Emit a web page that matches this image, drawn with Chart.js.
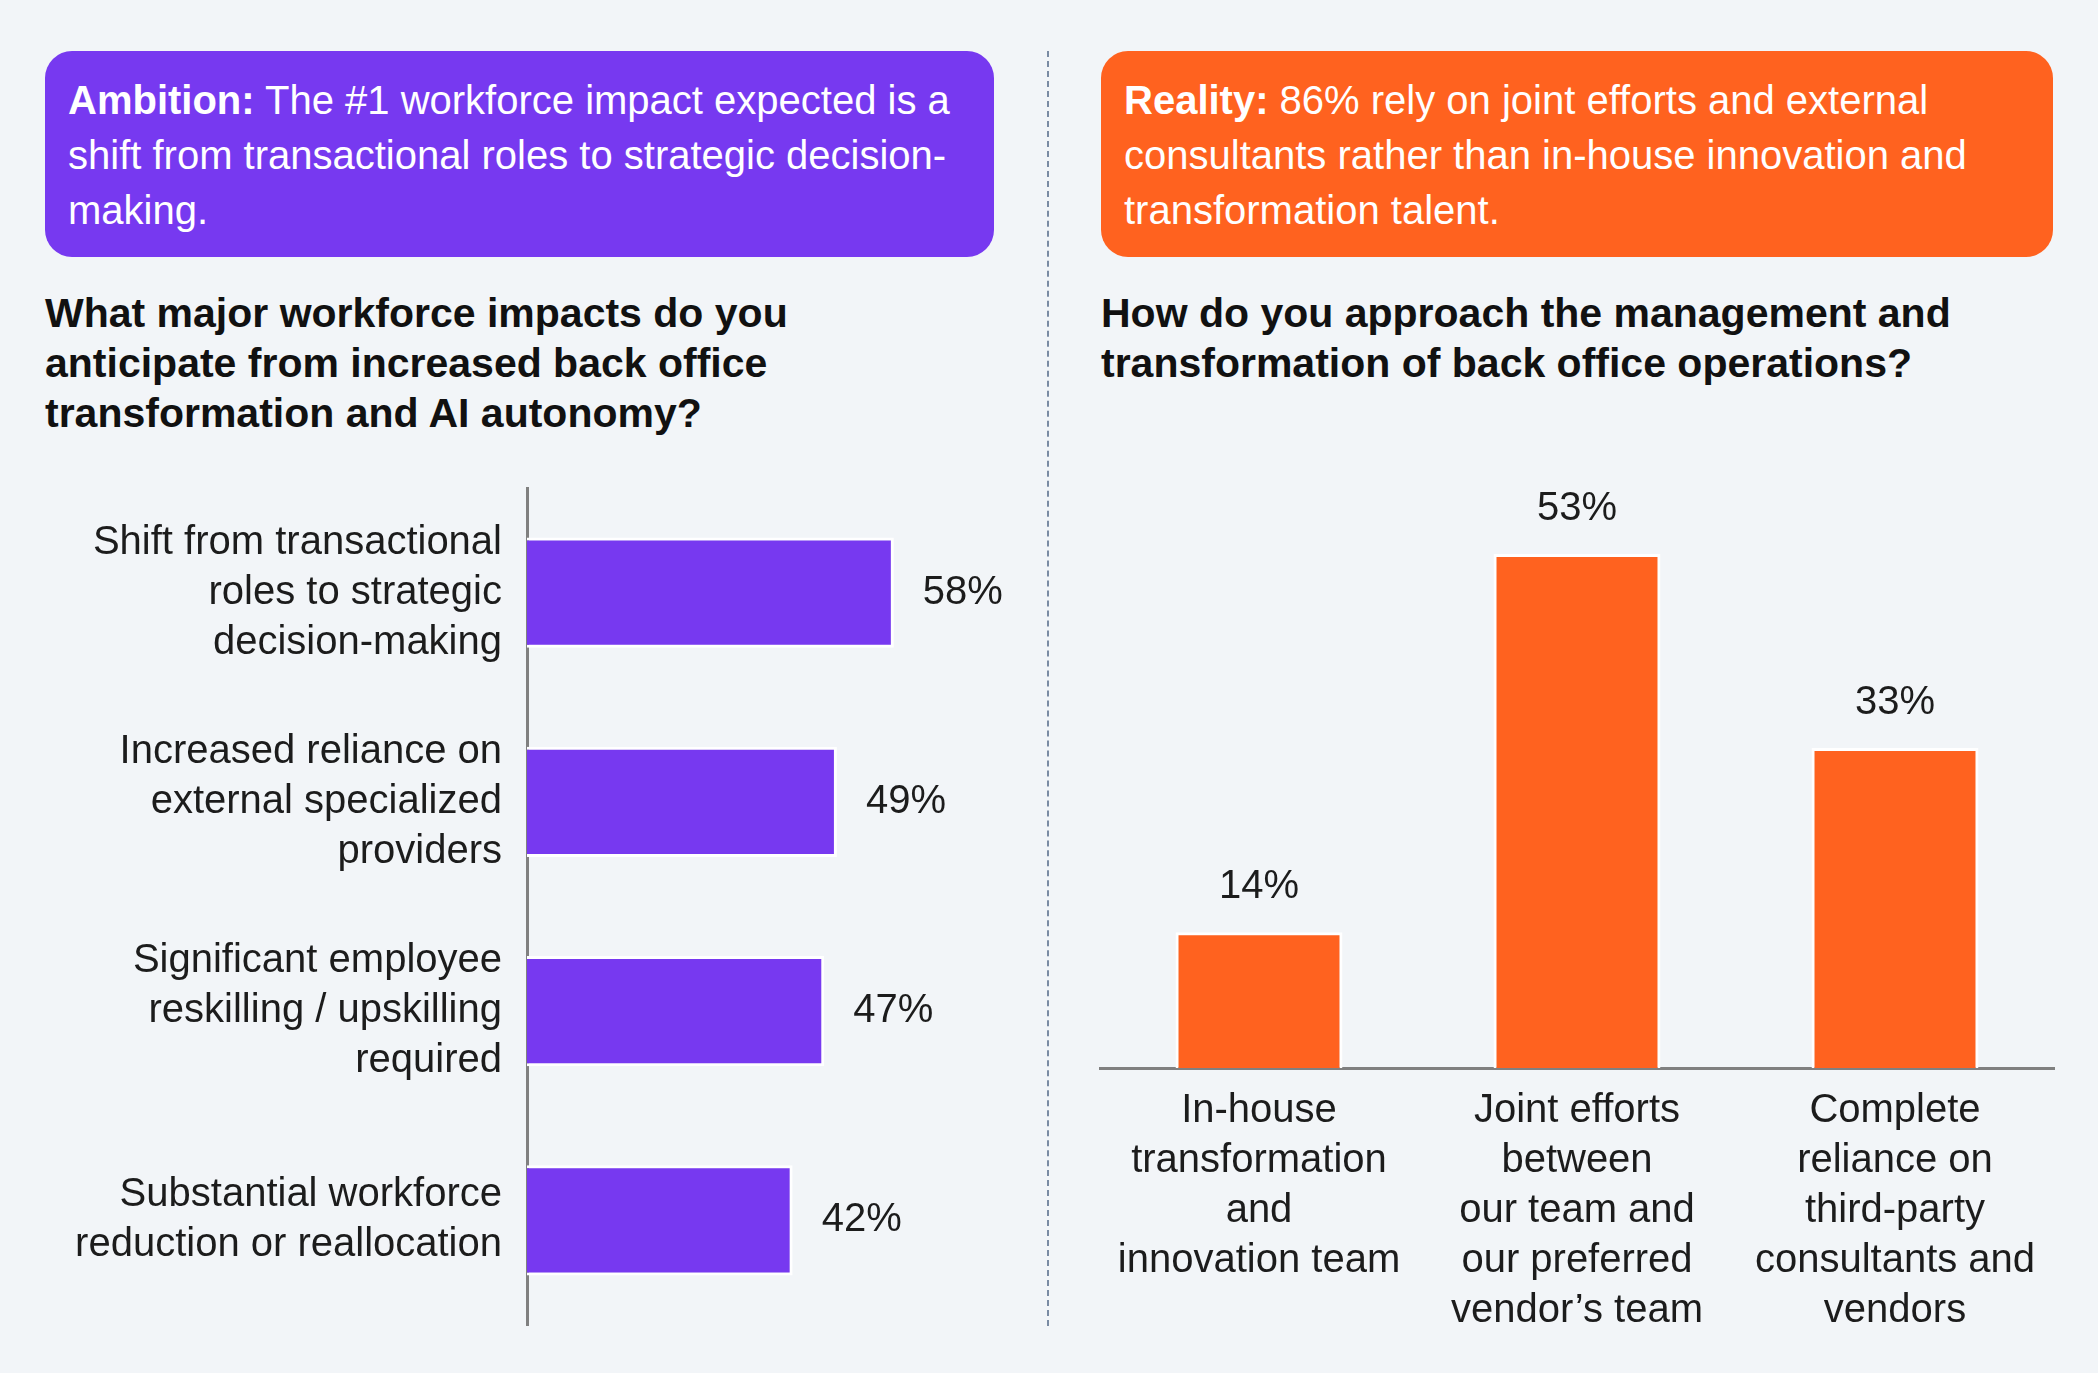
<!DOCTYPE html>
<html>
<head>
<meta charset="utf-8">
<script src="https://cdn.jsdelivr.net/npm/chart.js@4.4.0/dist/chart.umd.min.js"></script>
<style>
  body { margin: 0; background: #f2f5f8; font-family: 'Liberation Sans', Arial, sans-serif; }
  #page { position: relative; width: 2098px; height: 1373px; overflow: hidden; background: #f2f5f8; }
  .box { position: absolute; top: 51px; height: 206px; border-radius: 27px; color: #fff;
         font-size: 40px; line-height: 55px; padding: 22px 23px; box-sizing: border-box; white-space: nowrap; }
  .box b { font-weight: bold; }
  .title { position: absolute; top: 288px; font-size: 41px; font-weight: bold; line-height: 50px; color: #111; white-space: nowrap; }
  #divider { position: absolute; left: 1047px; top: 51px; height: 1275px; width: 0;
             border-left: 2px dashed #7a8ba3; }
  canvas { position: absolute; }
</style>
</head>
<body>
<div id="page">
  <div class="box" style="left:45px; width:949px; background:#7739f0;">
    <b>Ambition:</b> The #1 workforce impact expected is a<br>shift from transactional roles to strategic decision-<br>making.
  </div>
  <div class="box" style="left:1101px; width:952px; background:#ff621f;">
    <b>Reality:</b> 86% rely on joint efforts and external<br>consultants rather than in-house innovation and<br>transformation talent.
  </div>
  <div class="title" style="left:45px;">What major workforce impacts do you<br>anticipate from increased back office<br>transformation and AI autonomy?</div>
  <div class="title" style="left:1101px;">How do you approach the management and<br>transformation of back office operations?</div>
  <div id="divider"></div>
  <canvas id="impact-chart" width="1048" height="870" style="left:0; top:470px;"></canvas>
  <canvas id="approach-chart" width="1049" height="903" style="left:1049px; top:470px;"></canvas>
</div>
<script>
var impactLabels = [
    ["Shift from transactional", "roles to strategic", "decision-making"],
    ["Increased reliance on", "external specialized", "providers"],
    ["Significant employee", "reskilling / upskilling", "required"],
    ["Substantial workforce", "reduction or reallocation"]
];
var impactValues = [58, 49, 47, 42];

var approachLabels = [
    ["In-house", "transformation", "and", "innovation team"],
    ["Joint efforts", "between", "our team and", "our preferred", "vendor\u2019s team"],
    ["Complete", "reliance on", "third-party", "consultants and", "vendors"]
];
var approachValues = [14, 53, 33];

var fontFamily = "'Liberation Sans', Arial, sans-serif";
var textColor = "#1c1c1c";

// draws the "58%" style labels next to / above each bar
var valueLabels = {
    id: 'valueLabels',
    afterDatasetsDraw: function (chart, args, opts) {
        var ctx = chart.ctx;
        var meta = chart.getDatasetMeta(0);
        var data = chart.data.datasets[0].data;
        ctx.save();
        ctx.font = "40px " + fontFamily;
        ctx.fillStyle = textColor;
        ctx.textBaseline = 'middle';
        meta.data.forEach(function (bar, i) {
            var txt = data[i] + '%';
            if (opts.horizontal) {
                ctx.textAlign = 'left';
                ctx.fillText(txt, bar.x + 29, bar.y);
            } else {
                ctx.textAlign = 'center';
                ctx.fillText(txt, bar.x, bar.y - 45);
            }
        });
        ctx.restore();
    }
};

//start impact chart
new Chart(document.getElementById('impact-chart'), {
    type: 'bar',
    data: {
        labels: impactLabels,
        datasets: [{
            data: impactValues,
            backgroundColor: "#7739f0",
            borderColor: "#ffffff",
            borderWidth: 3,
            barPercentage: 0.526,
            categoryPercentage: 1
        }]
    },
    plugins: [valueLabels],
    options: {
        indexAxis: 'y',
        responsive: false,
        animation: false,
        layout: { padding: { top: 18, bottom: 15, right: 15, left: 0 } },
        plugins: {
            legend: { display: false },
            tooltip: { enabled: false },
            valueLabels: { horizontal: true }
        },
        scales: {
            x: { display: false, min: 0, max: 80 },
            y: {
                grid: { display: false, drawTicks: false },
                border: { display: true, color: "#808080", width: 3 },
                ticks: {
                    color: textColor,
                    padding: 25,
                    font: { family: fontFamily, size: 40, lineHeight: 1.25 }
                },
                afterFit: function (scale) {
                    scale.width = 527;
                    scale.paddingTop = 0;
                    scale.paddingBottom = 0;
                }
            }
        }
    }
});
//end impact chart

//start approach chart
new Chart(document.getElementById('approach-chart'), {
    type: 'bar',
    data: {
        labels: approachLabels,
        datasets: [{
            data: approachValues,
            backgroundColor: "#ff621f",
            borderColor: "#ffffff",
            borderWidth: 3,
            barPercentage: 0.525,
            categoryPercentage: 1
        }]
    },
    plugins: [valueLabels],
    options: {
        responsive: false,
        animation: false,
        layout: { padding: { top: 16, bottom: 0, right: 44, left: 51 } },
        plugins: {
            legend: { display: false },
            tooltip: { enabled: false },
            valueLabels: { horizontal: false }
        },
        scales: {
            y: { display: false, min: 0, max: 60 },
            x: {
                grid: { display: false, drawTicks: false },
                border: { display: true, color: "#808080", width: 3 },
                ticks: {
                    color: textColor,
                    padding: 18,
                    maxRotation: 0,
                    autoSkip: false,
                    font: { family: fontFamily, size: 40, lineHeight: 1.25 }
                },
                afterFit: function (scale) {
                    scale.height = 305;
                    scale.paddingLeft = 0;
                    scale.paddingRight = 0;
                }
            }
        }
    }
});
//end approach chart
</script>
</body>
</html>
